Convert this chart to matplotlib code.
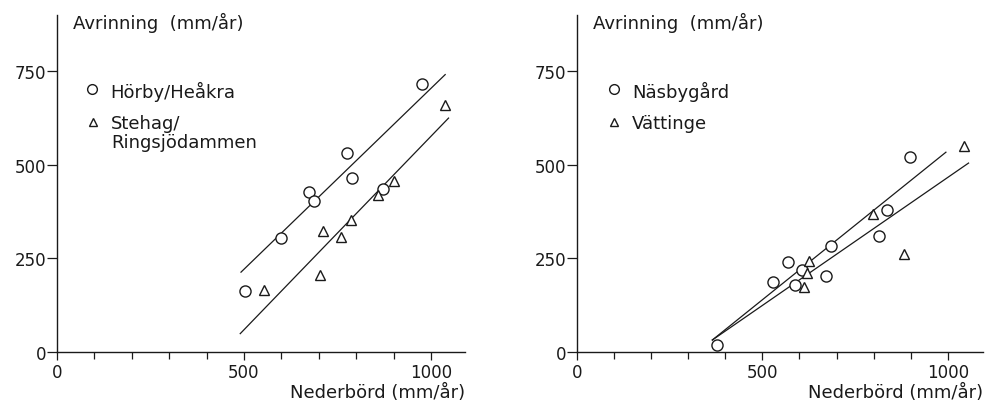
import numpy as np
import matplotlib
matplotlib.use("Agg")
import matplotlib.pyplot as plt

# Vänster diagram: Hörby/Heåkra och Stehag/Ringsjödammen
horby_x = [502, 600, 673, 688, 775, 790, 873, 976]
horby_y = [162, 304, 427, 404, 531, 465, 434, 715]
stehag_x = [553, 702, 710, 759, 786, 858, 902, 1038]
stehag_y = [166, 206, 324, 307, 353, 420, 455, 658]
horby_line_x = [492, 1038]
horby_line_y = [213, 740]
stehag_line_x = [490, 1047]
stehag_line_y = [49, 624]

# Höger diagram: Näsbygård och Vättinge
nasby_x = [377, 529, 570, 588, 607, 671, 684, 815, 835, 898]
nasby_y = [18, 188, 240, 178, 218, 202, 284, 309, 378, 520]
vatt_x = [612, 619, 627, 797, 883, 1043]
vatt_y = [173, 211, 244, 369, 262, 549]
vatt_line_x = [365, 995]
vatt_line_y = [32, 533]
nasby_line_x = [365, 1056]
nasby_line_y = [32, 504]

yticks = [0, 250, 500, 750]
xticks = [0, 500, 1000]
xminor = list(range(0, 1100, 100))

ink = "#1a1a1a"
plt.rcParams['font.family'] = ['DejaVu Sans']

fig = plt.figure(figsize=(9.85, 4.02), dpi=100)
ax1 = fig.add_axes([57/985, 49/402, 408/985, 337/402])
ax2 = fig.add_axes([577/985, 49/402, 406/985, 337/402])


def style(ax, xmax):
	ax.set_xlim(0, xmax)
	ax.set_ylim(0, 899)
	for s in ["top", "right"]:
		ax.spines[s].set_visible(False)
	for s in ["left", "bottom"]:
		ax.spines[s].set_color(ink)
		ax.spines[s].set_linewidth(1.0)
	ax.set_yticks(yticks)
	ax.set_xticks(xticks)
	ax.set_xticks(xminor, minor=True)
	ax.tick_params(axis="both", which="both", direction="out", colors=ink,
				   labelsize=12, width=0.9)
	ax.tick_params(axis="y", length=7, pad=1)
	ax.tick_params(axis="x", which="major", length=6, pad=2)
	ax.tick_params(axis="x", which="minor", length=5)
	ax.text(0.04, 0.978, "Avrinning  (mm/år)", transform=ax.transAxes,
			fontsize=13, color=ink, va="center", ha="left")
	ax.text(1.0, -0.12, "Nederbörd (mm/år)", transform=ax.transAxes,
			fontsize=13, color=ink, va="center", ha="right")


def legend_entry(ax, marker, label, x, y, ms):
	ax.plot([x], [y], marker=marker, ms=ms, mfc="none", mec=ink, mew=1.0,
			transform=ax.transAxes, clip_on=False)
	ax.text(x + 0.045, y + 0.024, label, transform=ax.transAxes, fontsize=13,
			color=ink, va="top", ha="left", linespacing=1.05)


style(ax1, 1091)
ax1.plot(horby_line_x, horby_line_y, color=ink, lw=0.9)
ax1.plot(stehag_line_x, stehag_line_y, color=ink, lw=0.9)
ax1.plot(horby_x, horby_y, "o", ms=8, mfc="white", mec=ink, mew=1.0, ls="none")
ax1.plot(stehag_x, stehag_y, "^", ms=7, mfc="white", mec=ink, mew=1.0, ls="none")
legend_entry(ax1, "o", "Hörby/Heåkra", 0.086, 0.780, 7)
legend_entry(ax1, "^", "Stehag/\nRingsjödammen", 0.088, 0.682, 5.5)

style(ax2, 1095)
ax2.plot(vatt_line_x, vatt_line_y, color=ink, lw=0.9)
ax2.plot(nasby_line_x, nasby_line_y, color=ink, lw=0.9)
ax2.plot(nasby_x, nasby_y, "o", ms=8, mfc="white", mec=ink, mew=1.0, ls="none")
ax2.plot(vatt_x, vatt_y, "^", ms=7, mfc="white", mec=ink, mew=1.0, ls="none")
legend_entry(ax2, "o", "Näsbygård", 0.091, 0.780, 7)
legend_entry(ax2, "^", "Vättinge", 0.091, 0.682, 5.5)

fig.savefig("out.png", dpi=100, facecolor="white")
